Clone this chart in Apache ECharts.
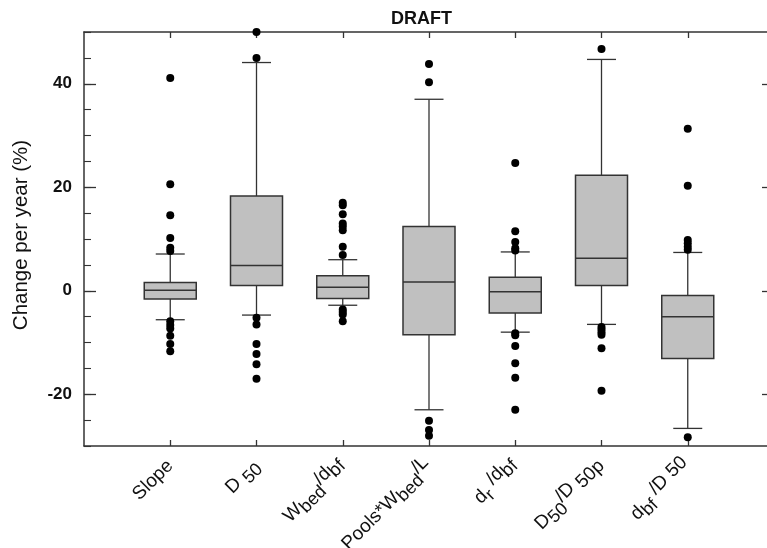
<!DOCTYPE html>
<html>
<head>
<meta charset="utf-8">
<title>DRAFT</title>
<script src="https://cdn.jsdelivr.net/npm/echarts@6/dist/echarts.min.js"></script>
<style>html,body{margin:0;padding:0;background:#fff}</style>
</head>
<body>
<div id="chart" style="width:767px;height:548px"></div>
<script>
// categories and their axis labels ({s|..} lowered, {u|..} raised)
var categories = ['Slope', 'D50', 'Wbed/dbf', 'Pools*Wbed/L', 'dr/dbf', 'D50/D50p', 'dbf/D50'];
var tickLabels = ['Slope', 'D {s|50}', 'W{s|bed}{u|/d}bf', 'Pools*W{s|bed}{u|/L}', 'd{s|r} {u|/d}bf', 'D{s|50}{u|/D} 50p', 'd{s|bf}{u| /D 50}'];

// box statistics, % change per year
var whiskerLow  = [-5.6, -4.7, -2.8, -23.0, -8.0, -6.5, -26.6];
var q1          = [-1.6,  1.0, -1.5,  -8.5, -4.3,  1.0, -13.1];
var median      = [ 0.1,  4.9,  0.7,   1.7, -0.2,  6.3,  -5.0];
var q3          = [ 1.6, 18.3,  2.9,  12.4,  2.6, 22.3,  -0.9];
var whiskerHigh = [ 7.1, 44.1,  6.0,  37.0,  7.5, 44.7,   7.4];

// outliers for each category
var outliers = [
  [41.1, 20.6, 14.6, 10.2, 8.3, 7.7, -5.9, -6.6, -7.3, -8.7, -10.3, -11.7],
  [50.0, 45.0, -5.2, -6.5, -10.3, -12.2, -14.2, -17.0],
  [17.0, 16.5, 14.8, 13.0, 12.4, 11.7, 8.5, 6.9, -3.6, -4.1, -4.6, -5.9],
  [43.8, 40.3, -25.1, -26.9, -28.0],
  [24.7, 11.5, 9.4, 8.2, 7.8, -8.2, -8.6, -10.7, -14.0, -16.8, -23.0],
  [46.7, -7.0, -7.5, -8.0, -8.5, -11.1, -19.3],
  [31.3, 20.3, 9.8, 9.2, 8.5, 7.9, -28.3]
];

var yMajor = [-20, 0, 20, 40];
var xPos = [1, 2, 3, 4, 5, 6, 7];

var boxData = [];
var pointData = [];
for (var i = 0; i < categories.length; i++) {
  boxData.push([xPos[i], whiskerLow[i], q1[i], median[i], q3[i], whiskerHigh[i]]);
  for (var j = 0; j < outliers[i].length; j++) {
    pointData.push([xPos[i], outliers[i][j]]);
  }
}

var lineCol = '#333';
var font = 'Liberation Sans, Arial, Helvetica, sans-serif';

var myChart = echarts.init(document.getElementById('chart'));

var option = {
  backgroundColor: '#fff',
  animation: false,
  title: {
    text: 'DRAFT',
    left: 386,
    top: 5,
    textStyle: {fontSize: 18, fontWeight: 'bold', color: '#111', fontFamily: font}
  },
  grid: {left: 84, right: -7, top: 32, bottom: 102, containLabel: false, outerBoundsMode: 'none'},
  xAxis: [
    {
      type: 'value', position: 'bottom', min: 0, max: 8, interval: 1,
      axisLine: {show: true, onZero: false, lineStyle: {color: lineCol, width: 1.5}},
      axisTick: {show: true, inside: true, length: 6, customValues: xPos, lineStyle: {color: lineCol, width: 1.3}},
      splitLine: {show: false},
      axisLabel: {
        customValues: xPos,
        rotate: 45,
        margin: 17,
        fontSize: 19,
        color: '#111',
        fontFamily: font,
        formatter: function (v) { return tickLabels[Math.round(v) - 1] || ''; },
        rich: {
          s: {fontSize: 18, color: '#111', fontFamily: font, padding: [10, 0, 0, 0]},
          u: {fontSize: 19, color: '#111', fontFamily: font, padding: [0, 0, 10, 0]}
        }
      }
    },
    {
      type: 'value', position: 'top', min: 0, max: 8, interval: 1,
      axisLine: {show: true, onZero: false, lineStyle: {color: lineCol, width: 1.5}},
      axisTick: {show: true, inside: true, length: 6, customValues: xPos, lineStyle: {color: lineCol, width: 1.3}},
      splitLine: {show: false},
      axisLabel: {show: false}
    }
  ],
  yAxis: [
    {
      type: 'value', position: 'left', min: -30, max: 50,
      name: 'Change per year (%)', nameLocation: 'middle', nameGap: 52, nameRotate: 90,
      nameTextStyle: {fontSize: 20.5, color: '#111', fontFamily: font, padding: [0, 0, 0, 8]},
      axisLine: {show: true, onZero: false, lineStyle: {color: lineCol, width: 1.5}},
      axisTick: {show: true, inside: true, length: 12, customValues: yMajor, lineStyle: {color: lineCol, width: 1.3}},
      axisLabel: {customValues: yMajor, fontSize: 17, fontWeight: 'bold', color: '#111', fontFamily: font, margin: 12},
      splitLine: {show: false}
    },
    {
      type: 'value', position: 'left', min: -30, max: 50, interval: 5,
      axisLine: {show: false, onZero: false},
      axisTick: {show: true, inside: true, length: 7, lineStyle: {color: lineCol, width: 1.1}},
      axisLabel: {show: false},
      splitLine: {show: false}
    },
    {
      type: 'value', position: 'right', min: -30, max: 50,
      axisLine: {show: true, onZero: false, lineStyle: {color: lineCol, width: 1.5}},
      axisTick: {show: true, inside: true, length: 12, customValues: yMajor, lineStyle: {color: lineCol, width: 1.3}},
      axisLabel: {show: false},
      splitLine: {show: false}
    },
    {
      type: 'value', position: 'right', min: -30, max: 50, interval: 5,
      axisLine: {show: false, onZero: false},
      axisTick: {show: true, inside: true, length: 7, lineStyle: {color: lineCol, width: 1.1}},
      axisLabel: {show: false},
      splitLine: {show: false}
    }
  ],
  series: [
    {
      name: 'box',
      type: 'custom',
      xAxisIndex: 0,
      yAxisIndex: 0,
      encode: {x: 0, y: [1, 2, 3, 4, 5]},
      data: boxData,
      renderItem: function (params, api) {
        var x = api.value(0);
        var pLo = api.coord([x, api.value(1)]);
        var pQ1 = api.coord([x, api.value(2)]);
        var pMed = api.coord([x, api.value(3)]);
        var pQ3 = api.coord([x, api.value(4)]);
        var pHi = api.coord([x, api.value(5)]);
        var half = 26, cap = 14.5;
        var cx = pMed[0];
        var ls = {stroke: lineCol, lineWidth: 1.3};
        return {
          type: 'group',
          children: [
            {type: 'line', shape: {x1: cx, y1: pLo[1], x2: cx, y2: pQ1[1]}, style: ls},
            {type: 'line', shape: {x1: cx, y1: pQ3[1], x2: cx, y2: pHi[1]}, style: ls},
            {type: 'line', shape: {x1: cx - cap, y1: pLo[1], x2: cx + cap, y2: pLo[1]}, style: ls},
            {type: 'line', shape: {x1: cx - cap, y1: pHi[1], x2: cx + cap, y2: pHi[1]}, style: ls},
            {type: 'rect', shape: {x: cx - half, y: pQ3[1], width: half * 2, height: pQ1[1] - pQ3[1]},
              style: {fill: '#c0c0c0', stroke: lineCol, lineWidth: 1.5}},
            {type: 'line', shape: {x1: cx - half, y1: pMed[1], x2: cx + half, y2: pMed[1]},
              style: {stroke: lineCol, lineWidth: 1.5}}
          ]
        };
      }
    },
    {
      name: 'outliers',
      type: 'scatter',
      xAxisIndex: 0,
      yAxisIndex: 0,
      symbol: 'circle',
      symbolSize: 8,
      clip: false,
      itemStyle: {color: '#000', opacity: 1},
      data: pointData
    }
  ]
};
myChart.setOption(option);
</script>
</body>
</html>
